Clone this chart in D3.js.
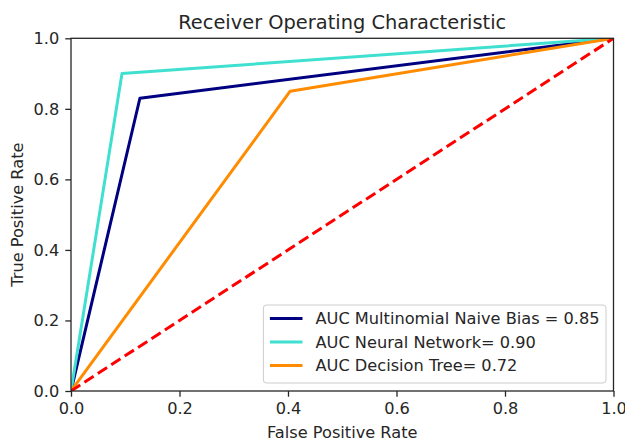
<!DOCTYPE html>
<html><head><meta charset="utf-8">
<script src="https://cdn.jsdelivr.net/npm/d3@7"></script>
<style>body{margin:0;background:#fff}svg{display:block}text{font-family:"DejaVu Sans",sans-serif;fill:#262626}</style>
</head><body>
<script>
const seriesNames = ["AUC Multinomial Naive Bias = 0.85", "AUC Neural Network= 0.90", "AUC Decision Tree= 0.72"];
const seriesColors = ["navy", "turquoise", "darkorange"];
const fprNB = [0, 0.127, 1];
const tprNB = [0, 0.83, 1];
const fprNN = [0, 0.094, 1];
const tprNN = [0, 0.90, 1];
const fprDT = [0, 0.404, 1];
const tprDT = [0, 0.85, 1];
const diagX = [0, 1];
const diagY = [0, 1];
const tickValues = [0, 0.2, 0.4, 0.6, 0.8, 1.0];
const titleText = "Receiver Operating Characteristic";
const xLabel = "False Positive Rate";
const yLabel = "True Positive Rate";

const W = 625, H = 441;
const L = 71, R = 613.5, T = 38.3, B = 391;
const FS = 16.2, LW = 3;
const svg = d3.select("body").append("svg").attr("width", W).attr("height", H);
const x = d3.scaleLinear().domain([0, 1]).range([L, R]);
const y = d3.scaleLinear().domain([0, 1]).range([B, T]);

const series = [[fprNB, tprNB], [fprNN, tprNN], [fprDT, tprDT]];
const line = d3.line().x(d => x(d[0])).y(d => y(d[1]));
svg.append("clipPath").attr("id", "c").append("rect")
  .attr("x", L).attr("y", T).attr("width", R - L).attr("height", B - T);
const g = svg.append("g").attr("clip-path", "url(#c)");
series.forEach((s, i) => {
  const pts = s[0].map((v, j) => [v, s[1][j]]);
  g.append("path").attr("d", line(pts)).attr("fill", "none")
    .attr("stroke", seriesColors[i]).attr("stroke-width", LW).attr("stroke-linejoin", "round");
});
g.append("path").attr("d", line(diagX.map((v, j) => [v, diagY[j]])))
  .attr("fill", "none").attr("stroke", "red").attr("stroke-width", LW)
  .attr("stroke-dasharray", "11,5");

// axes
const fmt = d3.format(".1f");
const xa = svg.append("g").attr("transform", `translate(0,${B})`)
  .call(d3.axisBottom(x).tickValues(tickValues).tickFormat(fmt).tickSizeInner(5.7).tickSizeOuter(0).tickPadding(5.5));
const ya = svg.append("g").attr("transform", `translate(${L},0)`)
  .call(d3.axisLeft(y).tickValues(tickValues).tickFormat(fmt).tickSizeInner(5.7).tickSizeOuter(0).tickPadding(6));
[xa, ya].forEach(a => {
  a.select(".domain").remove();
  a.selectAll("line").attr("stroke", "#262626").attr("stroke-width", 1.3);
  a.selectAll("text").attr("font-size", FS).attr("font-family", "DejaVu Sans").attr("fill", "#262626");
});
// spines
svg.append("rect").attr("x", L).attr("y", T).attr("width", R - L).attr("height", B - T)
  .attr("fill", "none").attr("stroke", "#262626").attr("stroke-width", 1.3);

svg.append("text").attr("x", (L + R) / 2).attr("y", 29).attr("text-anchor", "middle")
  .attr("font-size", 19.4).text(titleText);
svg.append("text").attr("x", (L + R) / 2).attr("y", 438).attr("text-anchor", "middle")
  .attr("font-size", FS).text(xLabel);
svg.append("text").attr("transform", `translate(23,${(T + B) / 2}) rotate(-90)`)
  .attr("text-anchor", "middle").attr("font-size", FS).text(yLabel);

// legend
const lg = svg.append("g");
const box = lg.append("rect");
const rowH = 23.5;
const texts = seriesNames.map((n, i) => lg.append("text").attr("font-size", FS).text(n));
const maxW = d3.max(texts, t => t.node().getComputedTextLength());
const pad = 6.5, hl = 32.6, hp = 13;
const boxW = pad + hl + hp + maxW + pad;
const boxH = 78;
const bx = R - 7.5 - boxW, by = B - 8 - boxH;
box.attr("x", bx).attr("y", by).attr("width", boxW).attr("height", boxH).attr("rx", 3)
  .attr("fill", "white").attr("fill-opacity", 0.8).attr("stroke", "#cccccc").attr("stroke-width", 1);
texts.forEach((t, i) => {
  const cy = by + 13.5 + i * rowH;
  t.attr("x", bx + pad + hl + hp).attr("y", cy + 5.8);
  lg.append("line").attr("x1", bx + pad).attr("x2", bx + pad + hl).attr("y1", cy).attr("y2", cy)
    .attr("stroke", seriesColors[i]).attr("stroke-width", LW);
});
</script>
</body></html>
